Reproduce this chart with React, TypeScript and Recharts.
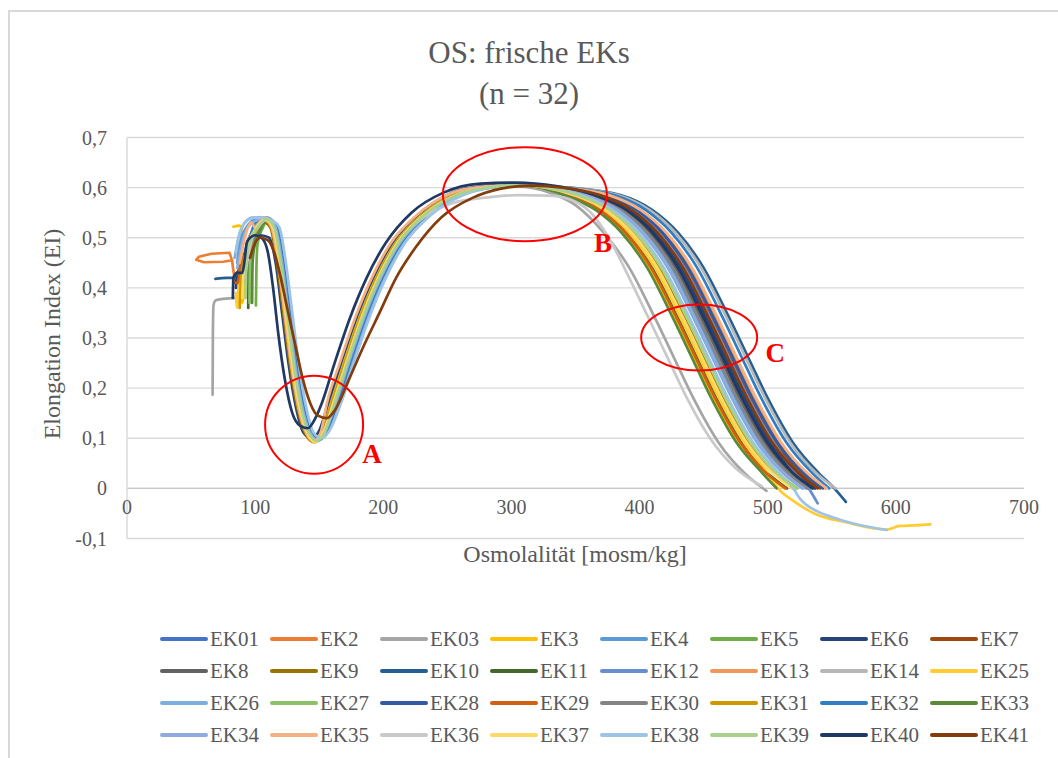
import React from "react";
import { LineChart, Line, XAxis, YAxis, CartesianGrid, ReferenceLine, ReferenceDot } from "recharts";

const FONT = '"Liberation Serif", "Times New Roman", serif';
const TEXT = "#595959";

const X_TICKS = [0, 100, 200, 300, 400, 500, 600, 700];
const Y_TICKS = [-0.1, 0, 0.1, 0.2, 0.3, 0.4, 0.5, 0.6, 0.7];

const NAMES = [
  "EK01", "EK2", "EK03", "EK3", "EK4", "EK5", "EK6", "EK7",
  "EK8", "EK9", "EK10", "EK11", "EK12", "EK13", "EK14", "EK25",
  "EK26", "EK27", "EK28", "EK29", "EK30", "EK31", "EK32", "EK33",
  "EK34", "EK35", "EK36", "EK37", "EK38", "EK39", "EK40", "EK41",
];

const COLORS = [
  "#4472C4", "#ED7D31", "#A5A5A5", "#FFC000", "#5B9BD5", "#70AD47", "#264478", "#9E480E",
  "#636363", "#997300", "#255E91", "#43682B", "#698ED0", "#F1975A", "#B7B7B7", "#FFCD33",
  "#7CAFDD", "#8CC168", "#335AA1", "#D26012", "#848484", "#CC9A00", "#327EC2", "#5A8A39",
  "#8FAADC", "#F4B183", "#C9C9C9", "#FFD966", "#9DC3E6", "#A9D18E", "#203864", "#843C0C",
];

// [osmolality, EI]
const ek01 = [[88,0.41],[91,0.45],[95,0.47],[100,0.5],[107,0.535],[113,0.52],[118,0.45],[123,0.35],[128,0.25],[134,0.16],[140,0.11],[146,0.095],[152,0.11],[162,0.17],[172,0.25],[184,0.34],[197,0.42],[212,0.49],[232,0.545],[257,0.585],[281,0.6],[305,0.605],[335,0.6],[365,0.585],[390,0.555],[410,0.51],[430,0.44],[450,0.34],[465,0.26],[480,0.18],[500,0.09],[520,0.03],[535,0]];
// EK2 starts with a small loop to the left before joining the main curve
const ek2Loop = [[82,0.455],[80,0.47],[66,0.468],[56,0.462],[54,0.456],[60,0.451],[75,0.452],[82,0.455]];
const ek2 = [[82,0.455],[84,0.42],[86,0.41],[88,0.41],[91,0.44],[96,0.48],[101,0.505],[108,0.535],[114,0.52],[119,0.45],[124,0.35],[129,0.25],[135,0.16],[141,0.11],[147,0.092],[153,0.11],[163,0.17],[173,0.25],[185,0.34],[198,0.42],[213,0.49],[233,0.545],[258,0.585],[282,0.6],[305,0.604],[336,0.6],[367,0.585],[392,0.555],[412,0.51],[432,0.44],[452,0.34],[467,0.26],[482,0.18],[502,0.09],[522,0.03],[537,0]];
const ek03 = [[66.8,0.187],[67,0.3],[67.5,0.365],[69,0.375],[75,0.378],[85,0.38],[90,0.39],[93,0.42],[97,0.47],[101,0.5],[107,0.53],[113,0.52],[118,0.45],[123,0.35],[128,0.25],[134,0.16],[140,0.11],[146,0.095],[152,0.11],[161,0.17],[171,0.25],[183,0.34],[196,0.42],[211,0.49],[231,0.545],[256,0.585],[280,0.6],[305,0.602],[330,0.59],[350,0.565],[372,0.51],[392,0.44],[412,0.34],[427,0.26],[442,0.18],[462,0.09],[482,0.03],[499,-0.005]];
const ek3 = [[83,0.522],[88,0.524],[89.4,0.52],[89.7,0.46],[90,0.37],[92,0.4],[95,0.46],[99,0.5],[106,0.535],[112,0.52],[117,0.45],[122,0.35],[127,0.25],[133,0.16],[139,0.11],[145,0.093],[151,0.11],[159,0.17],[169,0.25],[181,0.34],[194,0.42],[209,0.49],[229,0.545],[254,0.585],[280,0.6],[305,0.604],[324,0.6],[343,0.585],[368,0.555],[388,0.51],[408,0.44],[428,0.34],[443,0.26],[458,0.18],[478,0.09],[498,0.03],[513,0]];
const ek4 = [[86,0.45],[88,0.49],[93,0.52],[98,0.535],[103,0.54],[110,0.54],[116,0.52],[121,0.45],[126,0.35],[131,0.25],[137,0.16],[143,0.11],[149,0.097],[155,0.115],[164,0.17],[174,0.25],[186,0.34],[199,0.42],[214,0.49],[234,0.545],[259,0.585],[282,0.6],[305,0.605],[332,0.6],[360,0.585],[385,0.555],[405,0.51],[425,0.44],[445,0.34],[460,0.26],[475,0.18],[495,0.09],[515,0.03],[530,0]];
const ek5 = [[100.6,0.365],[101,0.44],[102,0.49],[106,0.52],[109,0.535],[115,0.52],[120,0.45],[125,0.35],[130,0.25],[136,0.16],[142,0.11],[148,0.094],[154,0.11],[161,0.17],[171,0.25],[183,0.34],[196,0.42],[211,0.49],[231,0.545],[256,0.585],[280,0.6],[305,0.605],[327,0.6],[350,0.585],[375,0.555],[395,0.51],[415,0.44],[435,0.34],[450,0.26],[465,0.18],[485,0.09],[505,0.03],[520,0]];
const ek6 = [[85,0.4],[86,0.43],[90,0.44],[94,0.47],[99,0.5],[104,0.505],[111,0.5],[116,0.45],[121,0.35],[126,0.25],[132,0.16],[138,0.11],[144,0.1],[150,0.115],[157,0.17],[167,0.25],[179,0.34],[192,0.42],[207,0.49],[227,0.545],[252,0.588],[278,0.603],[305,0.606],[336,0.6],[367,0.585],[392,0.555],[412,0.51],[432,0.44],[452,0.34],[467,0.26],[482,0.18],[502,0.09],[522,0.03],[537,0]];
const ek7 = [[92,0.44],[95,0.47],[98,0.5],[101,0.51],[108,0.535],[114,0.52],[119,0.45],[124,0.35],[129,0.25],[135,0.16],[141,0.11],[147,0.095],[153,0.11],[165,0.17],[175,0.25],[187,0.34],[200,0.42],[215,0.49],[235,0.545],[260,0.585],[283,0.6],[306,0.604],[338,0.6],[371,0.585],[396,0.555],[416,0.51],[436,0.44],[456,0.34],[471,0.26],[486,0.18],[506,0.09],[526,0.03],[541,0]];
const ek8 = [[90,0.42],[93,0.46],[97,0.49],[100,0.5],[107,0.53],[113,0.52],[118,0.45],[123,0.35],[128,0.25],[134,0.16],[140,0.11],[146,0.096],[152,0.11],[160,0.17],[170,0.25],[182,0.34],[195,0.42],[210,0.49],[230,0.545],[255,0.585],[280,0.6],[305,0.604],[334,0.6],[363,0.585],[388,0.555],[408,0.51],[428,0.44],[448,0.34],[463,0.26],[478,0.18],[498,0.09],[518,0.03],[533,0]];
const ek9 = [[87,0.38],[88,0.42],[92,0.46],[96,0.49],[99,0.5],[106,0.532],[112,0.52],[117,0.45],[122,0.35],[127,0.25],[133,0.16],[139,0.11],[145,0.094],[151,0.11],[160,0.17],[170,0.25],[182,0.34],[195,0.42],[210,0.49],[230,0.545],[255,0.585],[280,0.6],[305,0.605],[328,0.6],[351,0.585],[376,0.555],[396,0.51],[416,0.44],[436,0.34],[451,0.26],[466,0.18],[486,0.09],[506,0.03],[521,0]];
const ek10 = [[69,0.418],[78,0.42],[83,0.42],[86,0.43],[90,0.45],[95,0.49],[100,0.52],[104,0.53],[111,0.535],[117,0.52],[122,0.45],[127,0.35],[132,0.25],[138,0.16],[144,0.11],[150,0.097],[156,0.115],[163,0.17],[173,0.25],[185,0.34],[198,0.42],[213,0.49],[233,0.545],[258,0.585],[282,0.6],[306,0.605],[345,0.6],[385,0.585],[410,0.555],[430,0.51],[450,0.44],[470,0.34],[485,0.26],[500,0.18],[520,0.09],[540,0.03],[552,0],[561,-0.027]];
const ek11 = [[94.6,0.36],[95,0.44],[98,0.48],[101,0.5],[108,0.535],[114,0.52],[119,0.45],[124,0.35],[129,0.25],[135,0.16],[141,0.11],[147,0.094],[153,0.11],[161,0.17],[171,0.25],[183,0.34],[196,0.42],[211,0.49],[231,0.545],[256,0.585],[280,0.6],[305,0.605],[325,0.6],[345,0.585],[370,0.555],[390,0.51],[410,0.44],[430,0.34],[445,0.26],[460,0.18],[480,0.09],[500,0.03],[515,0]];
const ek12 = [[89,0.43],[92,0.47],[97,0.51],[102,0.52],[109,0.537],[115,0.52],[120,0.45],[125,0.35],[130,0.25],[136,0.16],[142,0.11],[148,0.095],[154,0.11],[162,0.17],[172,0.25],[184,0.34],[197,0.42],[212,0.49],[232,0.545],[257,0.585],[281,0.6],[305,0.605],[337,0.6],[370,0.585],[395,0.555],[415,0.51],[435,0.44],[455,0.34],[470,0.26],[485,0.18],[505,0.09],[522,0.03],[532,0],[539,-0.03]];
const ek13 = [[90,0.44],[94,0.49],[99,0.52],[103,0.53],[109,0.54],[115,0.52],[120,0.45],[125,0.35],[130,0.25],[136,0.16],[142,0.11],[148,0.095],[154,0.11],[163,0.17],[173,0.25],[185,0.34],[198,0.42],[213,0.49],[233,0.545],[258,0.585],[282,0.6],[306,0.604],[340,0.6],[375,0.585],[400,0.555],[420,0.51],[440,0.44],[460,0.34],[475,0.26],[490,0.18],[510,0.09],[530,0.03],[545,0]];
const ek14 = [[91,0.43],[95,0.48],[100,0.52],[103,0.53],[110,0.538],[116,0.52],[121,0.45],[126,0.35],[131,0.25],[137,0.16],[143,0.11],[149,0.096],[155,0.11],[164,0.17],[174,0.25],[186,0.34],[199,0.42],[214,0.49],[234,0.545],[259,0.585],[282,0.6],[306,0.604],[344,0.6],[383,0.585],[408,0.555],[428,0.51],[448,0.44],[468,0.34],[483,0.26],[498,0.18],[518,0.09],[538,0.03],[553,0]];
const ek25 = [[85,0.39],[86,0.36],[88,0.42],[93,0.47],[97,0.5],[100,0.51],[107,0.535],[113,0.52],[118,0.45],[123,0.35],[128,0.25],[134,0.16],[140,0.11],[146,0.093],[152,0.11],[160,0.17],[170,0.25],[182,0.34],[195,0.42],[210,0.49],[230,0.545],[255,0.585],[280,0.6],[305,0.605],[326,0.6],[347,0.585],[372,0.555],[392,0.51],[412,0.44],[432,0.34],[447,0.26],[462,0.18],[482,0.09],[500,0.03],[508,0],[520,-0.025],[538,-0.052],[560,-0.067],[593,-0.082],[603,-0.075],[614,-0.074],[627,-0.072]];
const ek26 = [[84,0.46],[87,0.5],[92,0.53],[98,0.54],[105,0.54],[112,0.535],[118,0.52],[123,0.45],[128,0.35],[133,0.25],[139,0.16],[145,0.11],[151,0.098],[157,0.115],[166,0.17],[176,0.25],[188,0.34],[201,0.42],[216,0.49],[236,0.545],[261,0.585],[283,0.6],[306,0.605],[331,0.6],[357,0.585],[382,0.555],[402,0.51],[422,0.44],[442,0.34],[457,0.26],[472,0.18],[492,0.09],[512,0.03],[527,0]];
const ek27 = [[95.6,0.37],[96,0.45],[99,0.5],[102,0.52],[109,0.54],[115,0.52],[120,0.45],[125,0.35],[130,0.25],[136,0.16],[142,0.11],[148,0.094],[154,0.11],[162,0.17],[172,0.25],[184,0.34],[197,0.42],[212,0.49],[232,0.545],[257,0.585],[281,0.6],[305,0.606],[329,0.6],[353,0.585],[378,0.555],[398,0.51],[418,0.44],[438,0.34],[453,0.26],[468,0.18],[488,0.09],[508,0.03],[523,0]];
const ek28 = [[88,0.42],[91,0.46],[96,0.5],[101,0.515],[108,0.535],[114,0.52],[119,0.45],[124,0.35],[129,0.25],[135,0.16],[141,0.11],[147,0.095],[153,0.11],[161,0.17],[171,0.25],[183,0.34],[196,0.42],[211,0.49],[231,0.545],[256,0.585],[280,0.6],[305,0.605],[339,0.6],[373,0.585],[398,0.555],[418,0.51],[438,0.44],[458,0.34],[473,0.26],[488,0.18],[508,0.09],[528,0.03],[543,0]];
const ek29 = [[83,0.41],[87,0.41],[88,0.44],[93,0.47],[97,0.5],[100,0.51],[107,0.535],[113,0.52],[118,0.45],[123,0.35],[128,0.25],[134,0.16],[140,0.11],[146,0.092],[152,0.11],[161,0.17],[171,0.25],[183,0.34],[196,0.42],[211,0.49],[231,0.545],[256,0.585],[280,0.6],[305,0.605],[324,0.6],[344,0.585],[369,0.555],[389,0.51],[409,0.44],[429,0.34],[444,0.26],[459,0.18],[479,0.09],[499,0.03],[514,0]];
const ek30 = [[90,0.4],[92,0.44],[96,0.48],[101,0.51],[108,0.533],[114,0.52],[119,0.45],[124,0.35],[129,0.25],[135,0.16],[141,0.11],[147,0.095],[153,0.11],[162,0.17],[172,0.25],[184,0.34],[197,0.42],[212,0.49],[232,0.545],[257,0.585],[281,0.6],[305,0.604],[333,0.6],[361,0.585],[386,0.555],[406,0.51],[426,0.44],[446,0.34],[461,0.26],[476,0.18],[496,0.09],[516,0.03],[531,0]];
const ek31 = [[88,0.36],[89,0.42],[93,0.47],[97,0.5],[100,0.51],[107,0.535],[113,0.52],[118,0.45],[123,0.35],[128,0.25],[134,0.16],[140,0.11],[146,0.093],[152,0.11],[160,0.17],[170,0.25],[182,0.34],[195,0.42],[210,0.49],[230,0.545],[255,0.585],[280,0.6],[305,0.605],[328,0.6],[352,0.585],[377,0.555],[397,0.51],[417,0.44],[437,0.34],[452,0.26],[467,0.18],[487,0.09],[507,0.03],[522,0]];
const ek32 = [[92,0.45],[96,0.5],[100,0.53],[104,0.535],[111,0.537],[117,0.52],[122,0.45],[127,0.35],[132,0.25],[138,0.16],[144,0.11],[150,0.097],[156,0.115],[164,0.17],[174,0.25],[186,0.34],[199,0.42],[214,0.49],[234,0.545],[259,0.585],[282,0.6],[306,0.605],[342,0.6],[380,0.585],[405,0.555],[425,0.51],[445,0.44],[465,0.34],[480,0.26],[495,0.18],[515,0.09],[535,0.03],[548,0]];
const ek33 = [[97.6,0.37],[98,0.45],[100,0.49],[103,0.51],[108,0.535],[114,0.52],[119,0.45],[124,0.35],[129,0.25],[135,0.16],[141,0.11],[147,0.093],[153,0.11],[161,0.17],[171,0.25],[183,0.34],[196,0.42],[211,0.49],[231,0.545],[256,0.585],[280,0.6],[305,0.605],[323,0.6],[341,0.585],[366,0.555],[386,0.51],[406,0.44],[426,0.34],[441,0.26],[456,0.18],[476,0.09],[496,0.03],[507,0]];
const ek34 = [[86,0.44],[89,0.48],[94,0.52],[102,0.535],[110,0.538],[116,0.52],[121,0.45],[126,0.35],[131,0.25],[137,0.16],[143,0.11],[149,0.096],[155,0.115],[163,0.17],[173,0.25],[185,0.34],[198,0.42],[213,0.49],[233,0.545],[258,0.585],[282,0.6],[305,0.605],[331,0.6],[358,0.585],[383,0.555],[403,0.51],[423,0.44],[443,0.34],[458,0.26],[473,0.18],[493,0.09],[513,0.03],[528,0]];
const ek35 = [[88,0.45],[92,0.5],[97,0.53],[100,0.52],[107,0.54],[113,0.52],[118,0.45],[123,0.35],[128,0.25],[134,0.16],[140,0.11],[146,0.094],[151,0.11],[156,0.17],[166,0.25],[178,0.34],[191,0.42],[206,0.49],[226,0.545],[251,0.587],[278,0.602],[305,0.605],[340,0.6],[376,0.585],[401,0.555],[421,0.51],[441,0.44],[461,0.34],[476,0.26],[491,0.18],[511,0.09],[531,0.03],[546,0]];
const ek36 = [[92,0.42],[95,0.47],[99,0.51],[102,0.52],[108,0.535],[114,0.52],[119,0.45],[124,0.35],[129,0.25],[135,0.16],[141,0.11],[147,0.095],[153,0.11],[161,0.17],[171,0.25],[183,0.34],[196,0.42],[211,0.49],[231,0.54],[255,0.57],[280,0.58],[305,0.585],[330,0.584],[350,0.572],[362,0.55],[376,0.5],[390,0.43],[407,0.34],[422,0.26],[437,0.18],[455,0.1],[475,0.04],[495,0.005]];
const ek37 = [[90,0.38],[91,0.44],[95,0.49],[101,0.52],[108,0.536],[114,0.52],[119,0.45],[124,0.35],[129,0.25],[135,0.16],[141,0.11],[147,0.092],[153,0.11],[161,0.17],[171,0.25],[183,0.34],[196,0.42],[211,0.49],[231,0.545],[256,0.585],[280,0.6],[305,0.605],[327,0.6],[349,0.585],[374,0.555],[394,0.51],[414,0.44],[434,0.34],[449,0.26],[464,0.18],[484,0.09],[504,0.03],[519,0]];
const ek38 = [[85,0.47],[88,0.51],[94,0.535],[100,0.54],[106,0.54],[113,0.535],[119,0.52],[124,0.45],[129,0.35],[134,0.25],[140,0.16],[146,0.11],[152,0.1],[158,0.115],[167,0.17],[177,0.25],[189,0.34],[202,0.42],[217,0.49],[237,0.545],[262,0.585],[284,0.6],[306,0.605],[330,0.6],[354,0.585],[379,0.555],[399,0.51],[419,0.44],[439,0.34],[454,0.26],[469,0.18],[489,0.09],[509,0.03],[520,0],[525,-0.02],[538,-0.045],[551,-0.058],[570,-0.072],[593,-0.083]];
const ek39 = [[92.6,0.38],[93,0.45],[97,0.5],[102,0.52],[109,0.537],[115,0.52],[120,0.45],[125,0.35],[130,0.25],[136,0.16],[142,0.11],[148,0.095],[154,0.11],[162,0.17],[172,0.25],[184,0.34],[197,0.42],[212,0.49],[232,0.545],[257,0.585],[281,0.6],[305,0.606],[328,0.6],[352,0.585],[377,0.555],[397,0.51],[417,0.44],[437,0.34],[452,0.26],[467,0.18],[487,0.09],[507,0.03],[522,0]];
const ek40 = [[82.6,0.38],[83,0.42],[86,0.43],[90,0.43],[92,0.46],[93.5,0.49],[96,0.5],[100,0.505],[105,0.5],[110,0.47],[114,0.4],[118,0.31],[123,0.22],[129,0.15],[135,0.125],[141,0.12],[147,0.14],[152,0.17],[162,0.25],[174,0.34],[187,0.42],[202,0.49],[222,0.55],[247,0.59],[276,0.608],[303,0.61],[335,0.603],[365,0.585],[390,0.555],[410,0.51],[430,0.44],[450,0.34],[465,0.26],[480,0.18],[500,0.09],[520,0.03],[535,0]];
const ek41 = [[96,0.46],[100,0.49],[104,0.5],[110,0.495],[115,0.47],[120,0.42],[125,0.36],[131,0.29],[137,0.22],[143,0.17],[149,0.145],[156,0.14],[162,0.155],[172,0.21],[184,0.28],[197,0.35],[210,0.42],[225,0.48],[245,0.54],[270,0.58],[292,0.598],[315,0.604],[340,0.6],[369,0.585],[394,0.555],[414,0.51],[434,0.44],[454,0.34],[469,0.26],[484,0.18],[504,0.09],[524,0.03],[539,0]];

const POINTS = [
  ek01, ek2, ek03, ek3, ek4, ek5, ek6, ek7,
  ek8, ek9, ek10, ek11, ek12, ek13, ek14, ek25,
  ek26, ek27, ek28, ek29, ek30, ek31, ek32, ek33,
  ek34, ek35, ek36, ek37, ek38, ek39, ek40, ek41,
];

const toXY = (pts: number[][]) => pts.map(([x, y]) => ({ x, y }));

const series = NAMES.map((name, i) => ({
  name,
  color: COLORS[i],
  data: toXY(POINTS[i]),
}));

// ellipse markers: center in data units, radii in px
const MARKS = [
  { label: "A", x: 146, y: 0.127, rx: 49, ry: 49, dx: 58, dy: 38 },
  { label: "B", x: 310.5, y: 0.587, rx: 82, ry: 47, dx: 78, dy: 58 },
  { label: "C", x: 446.5, y: 0.301, rx: 58, ry: 33, dx: 76, dy: 25 },
];

const fmt = (v: number) => String(Math.round(v * 10) / 10).replace(".", ",");

const XTick = ({ x, y, payload }: any) => (
  <text x={x} y={y - 25} textAnchor="middle" fill={TEXT} fontSize={20} fontFamily={FONT}>
    {payload.value}
  </text>
);

export default function App() {
  return (
    <div style={{ position: "absolute", left: 0, top: 0, width: 1058, height: 758, background: "#fff", fontFamily: FONT }}>
      <div
        style={{
          position: "absolute", left: 8, top: 10, width: 1050, height: 748,
          borderTop: "2px solid #d9d9d9", borderLeft: "2px solid #d9d9d9",
        }}
      />
      <LineChart
        width={1058}
        height={758}
        margin={{ top: 137.5, right: 34, bottom: 189.5, left: 0 }}
        style={{ position: "absolute", left: 0, top: 0 }}
      >
        <CartesianGrid vertical={false} stroke="#d9d9d9" strokeWidth={1.4} />
        <XAxis
          type="number"
          dataKey="x"
          domain={[0, 700]}
          ticks={X_TICKS}
          axisLine={false}
          tickLine={false}
          tickSize={0}
          tickMargin={0}
          height={30}
          tick={<XTick />}
          allowDataOverflow
        />
        <YAxis
          type="number"
          domain={[-0.1, 0.7]}
          ticks={Y_TICKS}
          tickFormatter={fmt}
          width={127}
          axisLine={{ stroke: "#d9d9d9", strokeWidth: 1.4 }}
          tickLine={false}
          tickSize={0}
          tickMargin={20}
          tick={{ fill: TEXT, fontSize: 20, fontFamily: FONT }}
          allowDataOverflow
        />
        <ReferenceLine y={0} stroke="#c8c8c8" strokeWidth={1.4} />
        <Line
          data={toXY(ek2Loop)}
          dataKey="y"
          name="EK2 loop"
          type="linear"
          stroke={COLORS[1]}
          strokeWidth={2.6}
          strokeLinejoin="round"
          strokeLinecap="round"
          dot={false}
          activeDot={false}
          isAnimationActive={false}
        />
        {series.map((s) => (
          <Line
            key={s.name}
            data={s.data}
            dataKey="y"
            name={s.name}
            type="monotone"
            stroke={s.color}
            strokeWidth={2.7}
            strokeLinejoin="round"
            strokeLinecap="round"
            dot={false}
            activeDot={false}
            isAnimationActive={false}
          />
        ))}
        {MARKS.map((m) => (
          <ReferenceDot
            key={m.label}
            x={m.x}
            y={m.y}
            ifOverflow="visible"
            shape={(p: any) => (
              <g>
                <ellipse cx={p.cx} cy={p.cy} rx={m.rx} ry={m.ry} fill="none" stroke="#ff0000" strokeWidth={2} />
                <text x={p.cx + m.dx} y={p.cy + m.dy} textAnchor="middle" fill="#ff0000" fontSize={27} fontWeight="bold" fontFamily={FONT}>
                  {m.label}
                </text>
              </g>
            )}
          />
        ))}
      </LineChart>
      <svg width={1058} height={758} style={{ position: "absolute", left: 0, top: 0, pointerEvents: "none" }}>
        <text x={529} y={63} textAnchor="middle" fill={TEXT} fontSize={31} fontFamily={FONT}>OS: frische EKs</text>
        <text x={529} y={104} textAnchor="middle" fill={TEXT} fontSize={31} fontFamily={FONT}>(n = 32)</text>
        <text x={575} y={562} textAnchor="middle" fill={TEXT} fontSize={24} fontFamily={FONT}>Osmolalität [mosm/kg]</text>
        <text transform="translate(60,334) rotate(-90)" textAnchor="middle" fill={TEXT} fontSize={24} fontFamily={FONT}>
          Elongation Index (EI)
        </text>
      </svg>
      {series.map((s, i) => {
        const col = i % 8;
        const row = Math.floor(i / 8);
        return (
          <div
            key={s.name}
            style={{
              position: "absolute", left: 160 + col * 110, top: 627 + row * 32, height: 24,
              display: "flex", alignItems: "center", color: TEXT, fontSize: 21, whiteSpace: "nowrap",
            }}
          >
            <span style={{ display: "inline-block", width: 48, height: 3.5, background: s.color, borderRadius: 2, marginRight: 2 }} />
            <span>{s.name}</span>
          </div>
        );
      })}
    </div>
  );
}
